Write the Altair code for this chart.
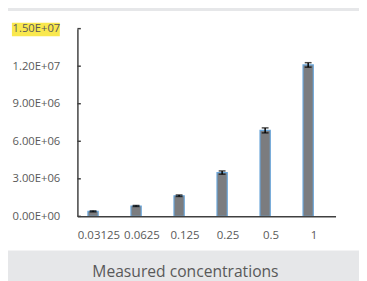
import altair as alt
import pandas as pd

categories = ["0.03125", "0.0625", "0.125", "0.25", "0.5", "1"]
values = [4.0e5, 8.3e5, 1.65e6, 3.5e6, 6.87e6, 1.21e7]
errors = [4e4, 4e4, 6e4, 1.3e5, 2.0e5, 1.8e5]
y_ticks = [0, 3e6, 6e6, 9e6, 1.2e7, 1.5e7]
y_tick_labels = ["0.00E+00", "3.00E+06", "6.00E+06", "9.00E+06", "1.20E+07", "1.50E+07"]
x_title = "Measured concentrations"

df = pd.DataFrame({"conc": categories, "value": values, "err": errors})
df["lo"] = df["value"] - df["err"]
df["hi"] = df["value"] + df["err"]
ticks_df = pd.DataFrame({"t": y_ticks})

label_expr = " : ".join(f"datum.value == {v:.0f} ? '{l}'" for v, l in zip(y_ticks, y_tick_labels)) + " : ''"

FONT = "Open Sans"
TXT = "#595959"
AX = "#404040"

x_axis = alt.Axis(
    title=x_title, labelAngle=0, ticks=False, domainColor=AX, domainWidth=1.5,
    labelPadding=14, labelFont=FONT, labelFontSize=11.7, labelColor=TXT,
    titleFont=FONT, titleFontSize=16, titleColor=TXT, titleFontWeight="normal",
    titleX=110, titleY=62, titleBaseline="alphabetic", titleAlign="center", zindex=1,
)
y_axis = alt.Axis(
    title=None, values=y_ticks, labelExpr=label_expr, ticks=False, grid=False,
    domainColor=AX, domainWidth=1.5, labelPadding=18, labelFont=FONT,
    labelFontSize=11.5, labelColor=TXT, zindex=1,
)
x_scale = alt.Scale(paddingInner=0, paddingOuter=0)
y_scale = alt.Scale(domain=[0, 1.5e7], nice=False)

def X():
    return alt.X("conc:N", sort=categories, scale=x_scale, axis=x_axis)

panel = alt.Chart(alt.Data(values=[{}])).mark_rect(color="white").encode(
    x=alt.value(-71), x2=alt.value(288), y=alt.value(-18), y2=alt.value(227)
)
highlight = alt.Chart(alt.Data(values=[{}])).mark_rect(color="#f9e84e").encode(
    x=alt.value(-67), x2=alt.value(-18), y=alt.value(-6), y2=alt.value(7.7)
)

bars = alt.Chart(df).mark_bar(
    width=10.5, xOffset=-6, color="#7b7c7f", stroke="#6aa6da", strokeWidth=1.2
).encode(
    x=X(),
    y=alt.Y("value:Q", scale=y_scale, axis=y_axis),
)
err_rule = alt.Chart(df).mark_rule(color="black", strokeWidth=1.5, xOffset=-6).encode(
    x=X(),
    y=alt.Y("lo:Q", scale=y_scale, axis=y_axis),
    y2="hi:Q",
)
cap_hi = alt.Chart(df).mark_tick(color="black", size=7, thickness=1.5, xOffset=-6).encode(
    x=X(), y=alt.Y("hi:Q", scale=y_scale, axis=y_axis)
)
cap_lo = alt.Chart(df).mark_tick(color="black", size=7, thickness=1.5, xOffset=-6).encode(
    x=X(), y=alt.Y("lo:Q", scale=y_scale, axis=y_axis)
)
yticks = alt.Chart(ticks_df).mark_rule(color=AX, strokeWidth=1.5).encode(
    x=alt.value(0), x2=alt.value(3.5),
    y=alt.Y("t:Q", scale=y_scale, axis=y_axis),
)

chart = alt.layer(panel, highlight, bars, err_rule, cap_hi, cap_lo, yticks).properties(
    width=264, height=192,
    autosize=alt.AutoSizeParams(type="none"),
    padding={"left": 71, "top": 18, "right": 24, "bottom": 63},
    background="#e6e7e9",
).configure_view(stroke=None)

chart.save("out.html", embed_options={"renderer": "svg", "actions": False})
